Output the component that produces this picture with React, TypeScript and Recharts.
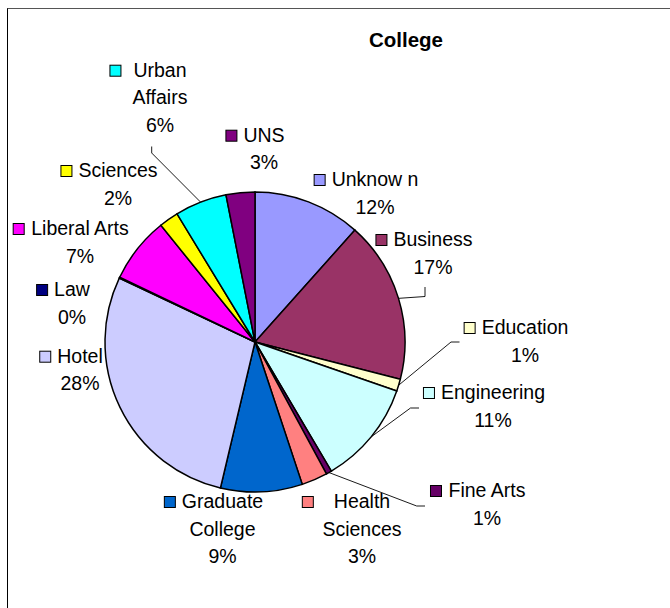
import React from "react";
import { PieChart, Pie, Cell } from "recharts";

const colleges = [
  "Unknow n",
  "Business",
  "Education",
  "Engineering",
  "Fine Arts",
  "Health Sciences",
  "Graduate College",
  "Hotel",
  "Law",
  "Liberal Arts",
  "Sciences",
  "Urban Affairs",
  "UNS",
];

// share of students, in percent
const shares = [11.6, 17.4, 1.3, 11.2, 0.6, 2.8, 8.8, 28.3, 0.1, 7.1, 2.1, 5.6, 3.1];

const sliceColors = [
  "#9999FF",
  "#993366",
  "#FFFFCC",
  "#CCFFFF",
  "#660066",
  "#FF8080",
  "#0066CC",
  "#CCCCFF",
  "#000080",
  "#FF00FF",
  "#FFFF00",
  "#00FFFF",
  "#800080",
];

// how each label name wraps, like Excel did it
const labelText = [
  ["Unknow n"],
  ["Business"],
  ["Education"],
  ["Engineering"],
  ["Fine Arts"],
  ["Health", "Sciences"],
  ["Graduate", "College"],
  ["Hotel"],
  ["Law"],
  ["Liberal Arts"],
  ["Sciences"],
  ["Urban", "Affairs"],
  ["UNS"],
];

const data = colleges.map((name, i) => ({ name, value: shares[i] }));

const FONT = "'Liberation Sans', Arial, sans-serif";
const FONT_SIZE = 19.5;
const LINE_H = 27.7;
const KEY = 11;

// label placement relative to the pie centre: text centre x, first baseline y,
// gap between key and text, and elbow points of the leader line
type Place = { x: number; y: number; gap?: number; leader?: [number, number][] };
const labelPlace: Place[] = [
  { x: 120, y: -156 },
  { x: 178, y: -96, leader: [[170, -45.5], [170, -55]] },
  { x: 270, y: -8, leader: [[196, 0], [204.5, 0]] },
  { x: 238, y: 57, leader: [[155.5, 66], [164, 66]] },
  { x: 232, y: 155, leader: [[161.7, 164], [170, 164]] },
  { x: 107, y: 166, gap: 21 },
  { x: -32.5, y: 166 },
  { x: -175, y: 20.7 },
  { x: -183, y: -46 },
  { x: -175, y: -107 },
  { x: -137, y: -165 },
  { x: -95, y: -265.3, gap: 13, leader: [[-103.3, -189], [-103.3, -195.5]] },
  { x: 9, y: -200.3 },
];

let ctx: CanvasRenderingContext2D | null = null;
function textWidth(s: string) {
  if (!ctx) ctx = document.createElement("canvas").getContext("2d");
  if (!ctx) return s.length * FONT_SIZE * 0.5;
  ctx.font = `${FONT_SIZE}px ${FONT}`;
  return ctx.measureText(s).width;
}

function renderLabel(props: any) {
  const { cx, cy, midAngle, outerRadius, percent, index } = props;
  const place = labelPlace[index];
  const lines = [...labelText[index], `${Math.round(percent * 100)}%`];
  const tx = cx + place.x;
  const ty = cy + place.y;
  const keyX = tx - textWidth(lines[0]) / 2 - (place.gap ?? 7) - KEY;
  const rad = Math.PI / 180;
  let leader = null;
  if (place.leader) {
    const ex = cx + outerRadius * Math.cos(-midAngle * rad);
    const ey = cy + outerRadius * Math.sin(-midAngle * rad);
    const pts = [[ex, ey], ...place.leader.map(([a, b]) => [cx + a, cy + b])];
    leader = (
      <polyline
        points={pts.map((p) => p.join(",")).join(" ")}
        fill="none"
        stroke="#000"
        strokeWidth={0.9}
      />
    );
  }
  return (
    <g key={`lbl-${index}`}>
      {leader}
      <rect
        x={keyX + 0.5}
        y={ty - KEY - 0.5}
        width={KEY}
        height={KEY}
        fill={sliceColors[index]}
        stroke="#000"
        strokeWidth={1}
      />
      {lines.map((t, i) => (
        <text
          key={i}
          x={tx}
          y={ty + i * LINE_H}
          textAnchor="middle"
          fontFamily={FONT}
          fontSize={FONT_SIZE}
          fill="#000"
        >
          {t}
        </text>
      ))}
    </g>
  );
}

export default function App() {
  return (
    <div style={{ position: "relative", width: 670, height: 608, background: "#fff" }}>
      <style>{"body{margin:0}"}</style>
      <div
        style={{
          position: "absolute",
          left: 7,
          top: 8,
          width: 700,
          height: 700,
          borderTop: "1px solid #555",
          borderLeft: "1px solid #000",
          boxSizing: "border-box",
        }}
      />
      <div
        style={{
          position: "absolute",
          left: 306,
          width: 200,
          top: 28,
          textAlign: "center",
          fontFamily: FONT,
          fontWeight: "bold",
          fontSize: 20.5,
          color: "#000",
        }}
      >
        College
      </div>
      <div style={{ position: "absolute", left: 0, top: 0 }}>
        <PieChart width={670} height={608} margin={{ top: 0, right: 0, bottom: 0, left: 0 }}>
          <Pie
            data={data}
            dataKey="value"
            nameKey="name"
            cx={255}
            cy={342}
            outerRadius={150}
            startAngle={90}
            endAngle={-270}
            stroke="#000"
            strokeWidth={1.5}
            label={renderLabel}
            labelLine={false}
            isAnimationActive={false}
          >
            {data.map((d, i) => (
              <Cell key={d.name} fill={sliceColors[i]} />
            ))}
          </Pie>
        </PieChart>
      </div>
    </div>
  );
}
